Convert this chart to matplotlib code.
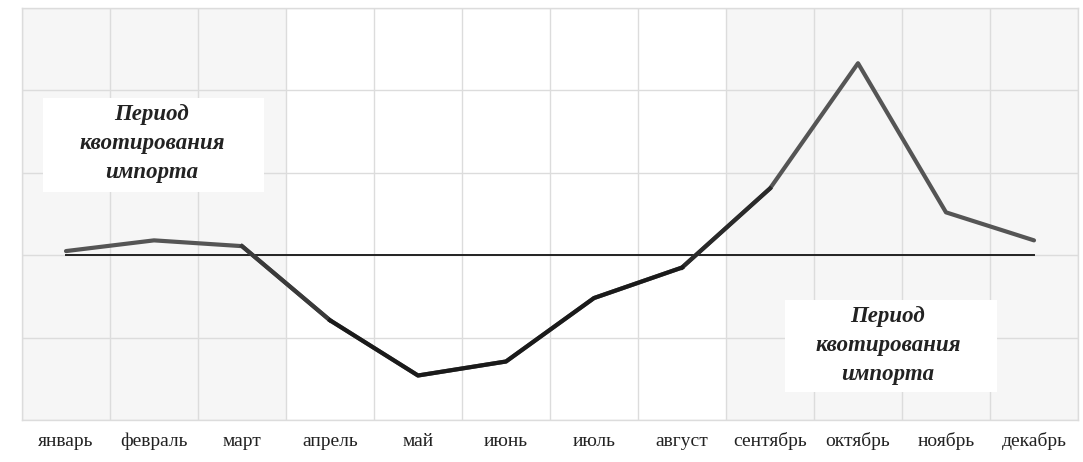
import matplotlib
matplotlib.use('Agg')
import matplotlib.pyplot as plt
from matplotlib.ticker import MultipleLocator
from matplotlib.patches import Rectangle

# data (baseline = 0, one grid step = 1)
months = ['январь', 'февраль', 'март', 'апрель', 'май', 'июнь',
          'июль', 'август', 'сентябрь', 'октябрь', 'ноябрь', 'декабрь']
values = [0.05, 0.18, 0.11, -0.79, -1.46, -1.29,
          -0.52, -0.15, 0.81, 2.33, 0.52, 0.18]
quota_periods = [(0, 2), (8, 11)]  # shaded month ranges (inclusive)
label = 'Период\nквотирования\nимпорта'

plt.rcParams['font.family'] = ['Liberation Serif', 'DejaVu Serif']

fig = plt.figure(figsize=(10.83, 4.62), dpi=100)
ax = fig.add_axes([22/1083, 42/462, 1056/1083, 412/462])

x = list(range(len(months)))
for a, b in quota_periods:
    ax.axvspan(a - 0.5, b + 0.5, color='#f6f6f6', zorder=0, lw=0)

ax.set_xlim(-0.5, len(months) - 0.5)
ax.set_ylim(-2, 3)
ax.xaxis.set_minor_locator(plt.FixedLocator([i - 0.5 for i in range(13)]))
ax.yaxis.set_major_locator(MultipleLocator(1))
ax.grid(which='minor', axis='x', color='#dcdcdc', lw=1)
ax.grid(which='major', axis='y', color='#dcdcdc', lw=1)
ax.set_axisbelow(True)
for s in ax.spines.values():
    s.set_color('#dcdcdc')
    s.set_linewidth(1)

ax.set_xticks(x)
ax.set_xticklabels(months, fontsize=14, color='#222222')
ax.set_yticklabels([])
ax.tick_params(axis='both', which='both', length=0)
ax.tick_params(axis='x', pad=9)

# baseline
ax.plot([x[0], x[-1]], [0, 0], color='#222222', lw=1.4, zorder=2)

# the curve: grey in quota periods, black in between
ax.plot(x, values, color='#555555', lw=3, zorder=3, solid_capstyle='round')
ax.plot(x[2:4], values[2:4], color='#3a3a3a', lw=3, zorder=3)
ax.plot(x[7:9], values[7:9], color='#2a2a2a', lw=3, zorder=3)
ax.plot(x[3:8], values[3:8], color='#1a1a1a', lw=3, zorder=4,
        solid_joinstyle='round')

# white label boxes
for (bx, by, bw, bh) in [(0.0199, 0.553, 0.209, 0.229),
                         (0.7225, 0.068, 0.2005, 0.223)]:
    ax.add_patch(Rectangle((bx, by), bw, bh, transform=ax.transAxes,
                           facecolor='white', edgecolor='none', zorder=5))
for (tx, ty) in [(0.123, 0.670), (0.820, 0.182)]:
    ax.text(tx, ty, label, transform=ax.transAxes, ha='center', va='center',
            fontsize=16.5, style='italic', weight='bold', color='#222222',
            linespacing=1.5, zorder=6)

fig.savefig('out.png', dpi=100)
